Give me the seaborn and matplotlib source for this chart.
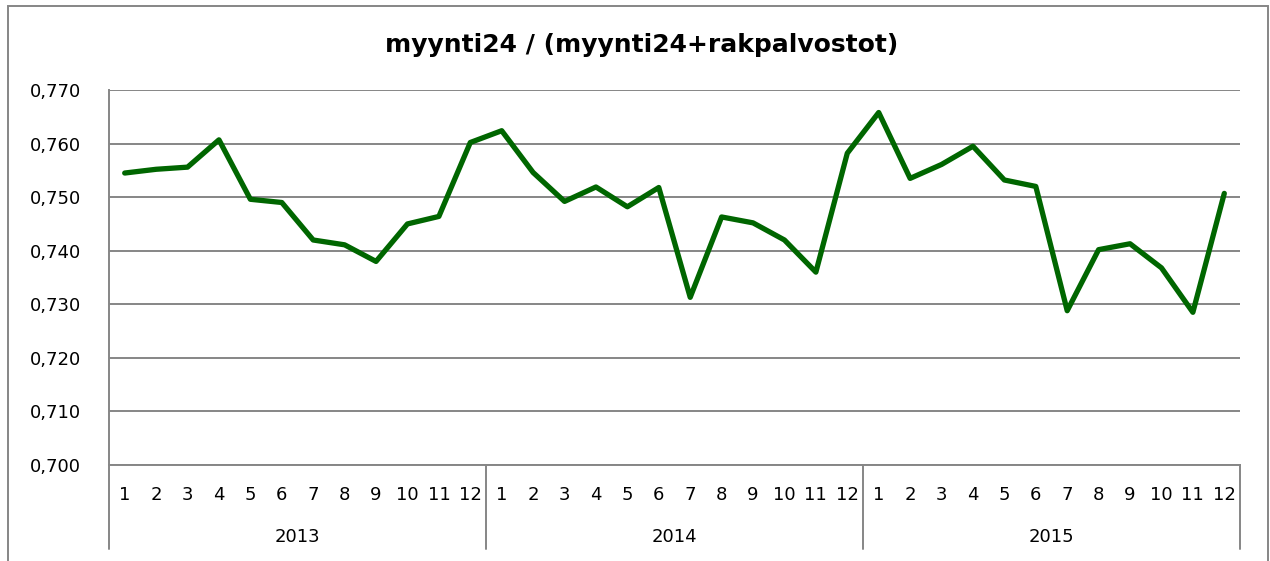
import matplotlib
matplotlib.use("Agg")
import matplotlib.pyplot as plt
import matplotlib.transforms as mtransforms
from matplotlib.patches import Rectangle
import seaborn as sns
import pandas as pd

# data
years = ["2013", "2014", "2015"]
months = [str(m) for m in range(1, 13)]
ratio_2013 = [0.7545, 0.7552, 0.7556, 0.7607, 0.7496, 0.7490,
              0.7420, 0.7411, 0.7380, 0.7450, 0.7464, 0.7602]
ratio_2014 = [0.7624, 0.7546, 0.7492, 0.7519, 0.7482, 0.7518,
              0.7313, 0.7463, 0.7452, 0.7420, 0.7360, 0.7582]
ratio_2015 = [0.7658, 0.7535, 0.7561, 0.7595, 0.7532, 0.7520,
              0.7288, 0.7402, 0.7413, 0.7368, 0.7285, 0.7507]
y_ticks = [0.700, 0.710, 0.720, 0.730, 0.740, 0.750, 0.760, 0.770]
title = "myynti24 / (myynti24+rakpalvostot)"

values = ratio_2013 + ratio_2014 + ratio_2015
df = pd.DataFrame({
    "idx": range(len(values)),
    "month": months * len(years),
    "ratio": values,
})

sns.set_theme(style="white")
plt.rcParams["font.family"] = ["DejaVu Sans"]
plt.rcParams["text.color"] = "black"

fig = plt.figure(figsize=(12.7, 5.61), dpi=100)
ax = fig.add_axes([109 / 1270, 1 - 465 / 561, (1240 - 109) / 1270, 375 / 561])

sns.lineplot(data=df, x="idx", y="ratio", ax=ax, color="#006600",
             linewidth=3.8, zorder=3)

grey = "#868686"
ax.set_xlim(-0.5, len(values) - 0.5)
ax.set_ylim(y_ticks[0], y_ticks[-1])
ax.set_yticks(y_ticks)
ax.set_yticklabels([f"{v:.3f}".replace(".", ",") for v in y_ticks])
ax.yaxis.grid(True, color=grey, linewidth=1.4)
ax.set_axisbelow(True)
ax.tick_params(axis="y", length=0, pad=20, labelsize=13, labelcolor="black")
ax.set_xticks(df["idx"])
ax.set_xticklabels(df["month"])
ax.tick_params(axis="x", length=0, pad=15, labelsize=13, labelcolor="black")
ax.set_xlabel("")
ax.set_ylabel("")

for side in ["top", "right"]:
    ax.spines[side].set_visible(False)
ax.spines["left"].set_color(grey)
ax.spines["left"].set_linewidth(1.4)
ax.spines["bottom"].set_color(grey)
ax.spines["bottom"].set_linewidth(1.4)

# grouped year axis below the months
trans = mtransforms.blended_transform_factory(ax.transData, ax.transAxes)
drop = -84 / 375
for i, yr in enumerate(years):
    ax.text(i * 12 + 5.5, -72 / 375, yr, transform=trans, ha="center",
            va="center", fontsize=13, color="black")
for i in range(len(years) + 1):
    ax.plot([i * 12 - 0.5, i * 12 - 0.5], [0, drop], transform=trans,
            color=grey, linewidth=1.4, clip_on=False)

fig.text(0.505, 1 - 45 / 561, title, ha="center", va="center",
         fontsize=18, fontweight="bold", color="black")

# outer chart frame
fig.patches.append(Rectangle((8 / 1270, -0.05), 1260 / 1270, 1.05 - 6 / 561,
                             transform=fig.transFigure, fill=False,
                             edgecolor=grey, linewidth=1.4))

fig.savefig("out.png", dpi=100)
plt.close(fig)
